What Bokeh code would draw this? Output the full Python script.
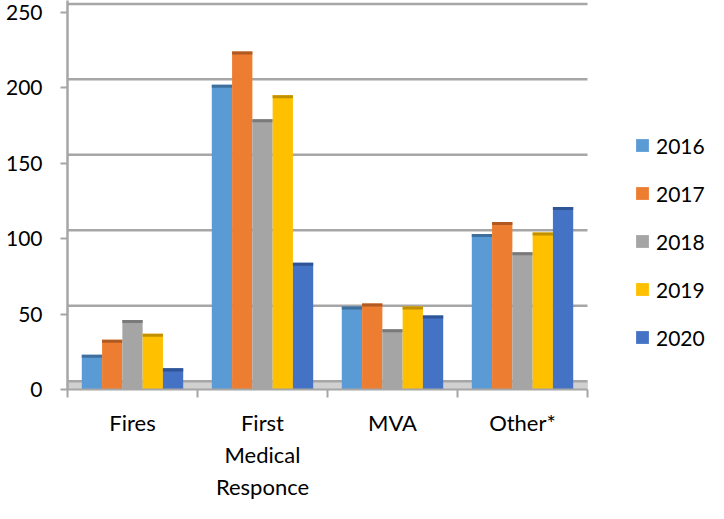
from bokeh.plotting import figure
from bokeh.models import (Range1d, FixedTicker, BoxAnnotation, Legend, LegendItem,
                          ColumnDataSource)
from bokeh.transform import dodge
from bokeh.embed import file_html
from bokeh.resources import INLINE

# ---- data ----
categories = ["Fires", "First Medical Responce", "MVA", "Other*"]
category_labels = ["Fires", "First\nMedical\nResponce", "MVA", "Other*"]
years = ["2016", "2017", "2018", "2019", "2020"]
v2016 = [23, 202, 55, 103]
v2017 = [33, 224, 57, 111]
v2018 = [46, 179, 40, 91]
v2019 = [37, 195, 55, 104]
v2020 = [14, 84, 49, 121]
y_ticks = [0, 50, 100, 150, 200, 250]

series = [v2016, v2017, v2018, v2019, v2020]
colors = ["#5B9BD5", "#ED7D31", "#A5A5A5", "#FFC000", "#4472C4"]
caps = ["#3F6F9C", "#B05A22", "#7A7A7A", "#C09000", "#2F5597"]

FONT = "Lato"
FS = "21px"
GRAY = "#A6A6A6"

W, H = 708, 503
LEFT, BOTTOM = 67, 104
CAT_PX = 130.0
frame_w = W - LEFT
frame_h = H - BOTTOM
PX_PER_UNIT = 387 / 250.0
X_END = frame_w / CAT_PX
Y_END = 250 + 12 / PX_PER_UNIT
WALL = 8.5 / PX_PER_UNIT
BAR_W = 0.156

p = figure(width=W, height=H, output_backend="svg", toolbar_location=None,
           x_range=Range1d(0, X_END), y_range=Range1d(0, Y_END),
           min_border_left=LEFT, min_border_right=0, min_border_top=0,
           min_border_bottom=BOTTOM)
p.extra_y_ranges = {"wall": Range1d(-WALL, Y_END - WALL)}
p.xgrid.visible = False
p.ygrid.visible = False
p.outline_line_color = None
p.background_fill_color = "white"
p.border_fill_color = "white"

n = len(categories)
xs = [i + 0.5 for i in range(n)]

# back wall gridlines (offset for 3D look)
p.segment(x0=[0] * len(y_ticks), x1=[n] * len(y_ticks), y0=y_ticks, y1=y_ticks,
          y_range_name="wall", line_color=GRAY, line_width=2.5)

# floor slab
p.add_layout(BoxAnnotation(left=0, right=n, bottom=0, top=WALL,
                           fill_color="#D0D0D0", fill_alpha=1.0,
                           line_color="#B0B0B0", line_width=1, level="underlay"))

src = ColumnDataSource(dict(x=xs, **{y: s for y, s in zip(years, series)},
                            **{y + "c": [v - 2.0 for v in s] for y, s in zip(years, series)}))

items = []
for k, y in enumerate(years):
    off = (k - 2) * BAR_W
    r = p.vbar(x=dodge("x", off), top=y, bottom=0, width=BAR_W, source=src,
               fill_color=colors[k], line_color=None)
    p.vbar(x=dodge("x", off), top=y, bottom=y + "c", width=BAR_W, source=src,
           fill_color=caps[k], line_color=None)
    items.append(LegendItem(label=y, renderers=[r]))

# x axis
xa = p.xaxis[0]
xa.ticker = FixedTicker(ticks=xs, minor_ticks=list(range(n + 1)))
xa.major_label_overrides = {x: lab for x, lab in zip(xs, category_labels)}
xa.bounds = (0, n)
xa.axis_line_color = GRAY
xa.axis_line_width = 2
xa.major_tick_out = 0
xa.major_tick_in = 0
xa.minor_tick_out = 8
xa.minor_tick_in = 0
xa.minor_tick_line_color = GRAY
xa.minor_tick_line_width = 2
xa.major_label_text_font = FONT
xa.major_label_text_font_size = "22px"
xa.major_label_text_color = "black"
xa.major_label_standoff = 11

# y axis
ya = p.yaxis[0]
ya.ticker = FixedTicker(ticks=y_ticks, minor_ticks=[])
ya.axis_line_color = GRAY
ya.axis_line_width = 2.5
ya.major_tick_out = 7
ya.major_tick_in = 0
ya.major_tick_line_color = GRAY
ya.major_tick_line_width = 2
ya.minor_tick_out = 0
ya.minor_tick_in = 0
ya.major_label_text_font = FONT
ya.major_label_text_font_size = FS
ya.major_label_text_color = "black"
ya.major_label_standoff = 18

legend = Legend(items=items, location=(567, 37), orientation="vertical",
                label_text_font=FONT, label_text_font_size=FS,
                label_text_color="black",
                glyph_width=16, glyph_height=16, label_height=30,
                spacing=18, padding=0, margin=0, label_standoff=6,
                border_line_color=None, background_fill_alpha=0)
p.add_layout(legend)

open("out.html", "w").write(file_html(p, INLINE))
